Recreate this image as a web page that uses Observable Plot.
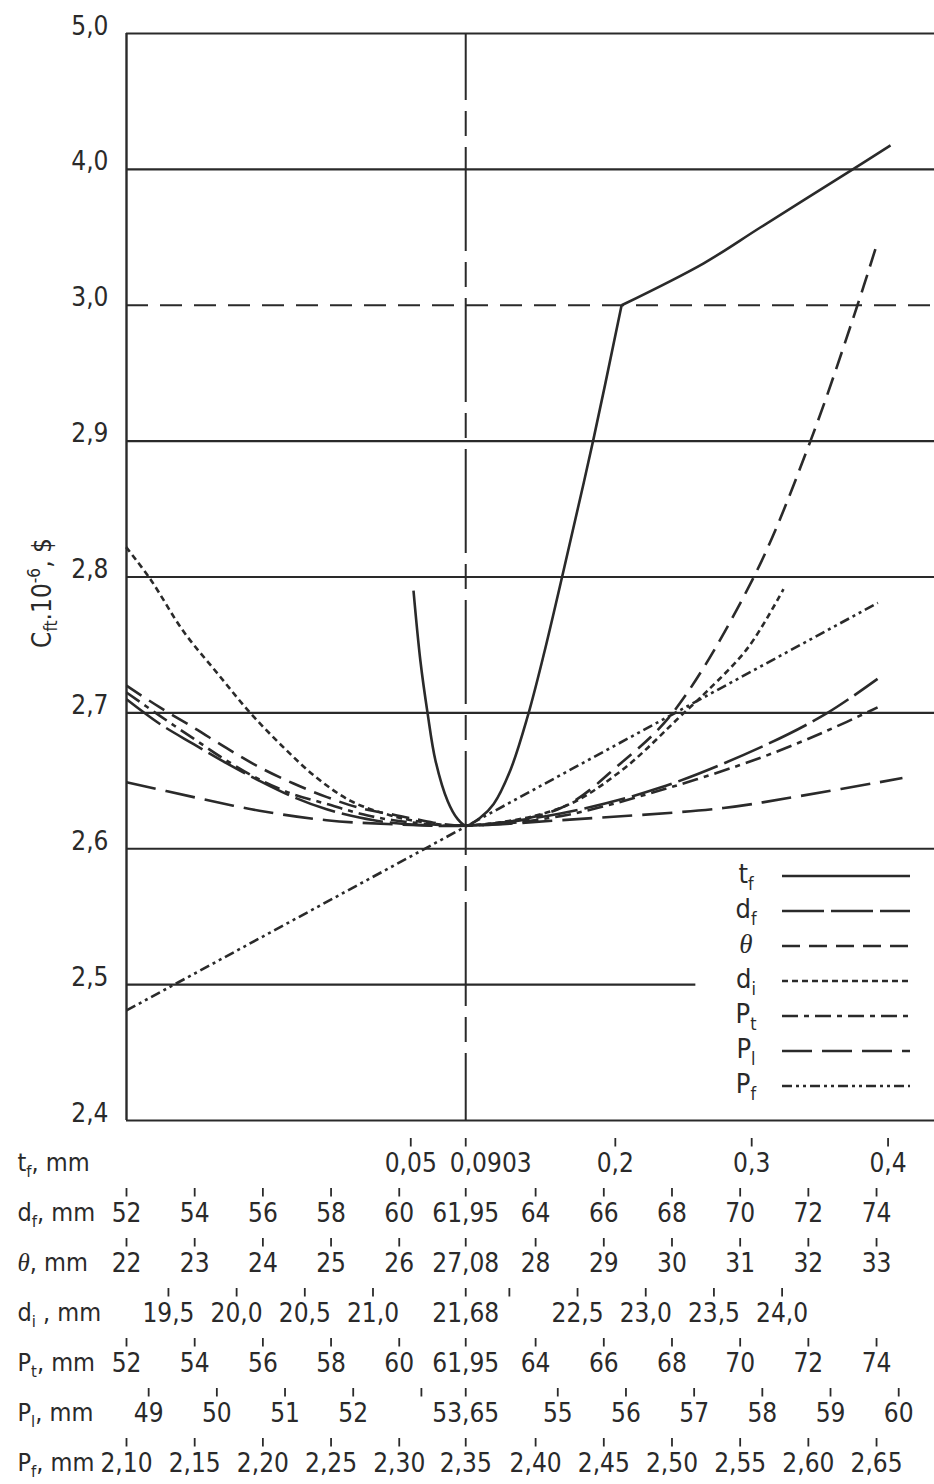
<!DOCTYPE html>
<html><head><meta charset="utf-8">
<script src="https://cdn.jsdelivr.net/npm/d3@7"></script>
<script src="https://cdn.jsdelivr.net/npm/@observablehq/plot@0.6"></script>
<style>
html,body{margin:0;padding:0;background:#fff;}
#chart{width:934px;}
#chart svg{display:block;}
</style></head><body><div id="chart"></div>
<script>
// ---------------- data ----------------
const yTicks = [2.4, 2.5, 2.6, 2.7, 2.8, 2.9, 3.0, 4.0, 5.0];
const yTickLabels = ["2,4", "2,5", "2,6", "2,7", "2,8", "2,9", "3,0", "4,0", "5,0"];
const yTitle = "C_{ft}.10^{-6}, $";

// curves: [value of the variable, C_ft ×10^-6 $]
const tfCurve = [[0.052,2.790],[0.0571,2.738],[0.0623,2.700],[0.0681,2.665],[0.0771,2.635],[0.0843,2.622],[0.0903,2.617],
  [0.1011,2.623],[0.1108,2.633],[0.1231,2.658],[0.1356,2.697],[0.1473,2.742],[0.1621,2.805],[0.1841,2.902],[0.2046,3.000],
  [0.2648,3.309],[0.3066,3.574],[0.3741,4.000],[0.4018,4.176]];
const dfCurve = [[52.0,2.710],[52.97,2.692],[53.97,2.677],[54.93,2.663],[55.90,2.650],[56.90,2.638],[57.87,2.629],[58.83,2.623],
  [59.83,2.619],[61.95,2.617],[64.73,2.626],[67.66,2.645],[70.80,2.677],[72.56,2.700],[74.03,2.725]];
const thetaCurve = [[22.0,2.720],[22.49,2.704],[22.99,2.689],[23.47,2.674],[23.95,2.660],[24.45,2.648],[24.94,2.638],[25.42,2.630],
  [25.92,2.625],[26.21,2.622],[26.98,2.617],[28.37,2.630],[29.25,2.663],[30.01,2.700],[31.20,2.800],[32.03,2.900],[32.72,3.000],[33.0,3.441]];
const diCurve = [[19.19,2.822],[19.37,2.798],[19.61,2.760],[19.86,2.729],[20.10,2.700],[20.35,2.674],[20.59,2.652],[20.84,2.635],
  [21.08,2.626],[21.28,2.621],[21.68,2.617],[22.375,2.630],[22.815,2.657],[23.28,2.700],[23.45,2.716],[23.75,2.748],[24.01,2.791]];
const ptCurve = [[52.0,2.715],[52.97,2.698],[53.97,2.681],[54.93,2.665],[55.90,2.651],[56.90,2.640],[57.87,2.633],[58.83,2.626],
  [59.83,2.621],[61.95,2.617],[64.73,2.624],[67.66,2.643],[70.60,2.667],[72.56,2.687],[74.03,2.704]];
const plCurve = [[48.675,2.649],[49.66,2.638],[50.625,2.628],[51.61,2.621],[52.59,2.618],[53.65,2.617],[55.04,2.621],
  [57.43,2.630],[58.46,2.638],[60.055,2.652]];
const pfCurve = [[2.10,2.481],[2.35,2.617],[2.651,2.781]];

// secondary abscissae
const rowKeys = ["tf", "df", "theta", "di", "Pt", "Pl", "Pf"];
const rowLabels = ["t_{f}, mm", "d_{f}, mm", "~{θ}, mm", "d_{i} , mm", "P_{t}, mm", "P_{l}, mm", "P_{f}, mm"];
const tfTicks = [0.05, 0.2, 0.3, 0.4];
const tfTickLabels = ["0,05", "0,2", "0,3", "0,4"];
const dfTicks = [52, 54, 56, 58, 60, 64, 66, 68, 70, 72, 74];
const dfTickLabels = ["52", "54", "56", "58", "60", "64", "66", "68", "70", "72", "74"];
const thetaTicks = [22, 23, 24, 25, 26, 28, 29, 30, 31, 32, 33];
const thetaTickLabels = ["22", "23", "24", "25", "26", "28", "29", "30", "31", "32", "33"];
const diTicks = [19.5, 20.0, 20.5, 21.0, 22.0, 22.5, 23.0, 23.5, 24.0];
const diTickLabels = ["19,5", "20,0", "20,5", "21,0", "", "22,5", "23,0", "23,5", "24,0"];
const ptTicks = [52, 54, 56, 58, 60, 64, 66, 68, 70, 72, 74];
const ptTickLabels = ["52", "54", "56", "58", "60", "64", "66", "68", "70", "72", "74"];
const plTicks = [49, 50, 51, 52, 53, 55, 56, 57, 58, 59, 60];
const plTickLabels = ["49", "50", "51", "52", "", "55", "56", "57", "58", "59", "60"];
const pfTicks = [2.10, 2.15, 2.20, 2.25, 2.30, 2.40, 2.45, 2.50, 2.55, 2.60, 2.65];
const pfTickLabels = ["2,10", "2,15", "2,20", "2,25", "2,30", "2,40", "2,45", "2,50", "2,55", "2,60", "2,65"];
const optimumLabels = ["0,0903", "61,95", "27,08", "21,68", "61,95", "53,65", "2,35"];

const legendKeys = ["tf", "df", "theta", "di", "Pt", "Pl", "Pf"];
const legendNames = ["t_{f}", "d_{f}", "~{θ}", "d_{i}", "P_{t}", "P_{l}", "P_{f}"];

// ---------------- scales / styles ----------------
const OPT = 61.95;                 // optimum, in d_f units (master abscissa)
const X_DOMAIN = [52, 75.7];
const GRID25_END = 68.7;
const toU = {                      // each variable -> master abscissa (d_f, mm)
  tf: v => OPT + (v - 0.0903) * 40,
  df: v => v,
  theta: v => 52 + (v - 22) * 2,
  di: v => OPT + (v - 21.68) * 4,
  Pt: v => v,
  Pl: v => OPT + (v - 53.65) * 2,
  Pf: v => 52 + (v - 2.10) * 40
};
const idx = v => v <= 3 ? (v - 2.4) * 10 : 6 + (v - 3);   // broken ordinate
const INK = "#2a2a2a";
const FONT = '"DejaVu Sans Condensed","DejaVu Sans",sans-serif';
const dash = {tf: null, df: "42,7", theta: "18,9", di: "6,4", Pt: "16,6,5,6", Pl: "30,10", Pf: "10,4,3,4,3,4"};
const SW = 2.6;

const lineMark = (data, key, curve = "catmull-rom") => Plot.line(data, {
  x: d => toU[key](d[0]), y: d => idx(d[1]), curve, stroke: INK, strokeWidth: SW,
  strokeDasharray: dash[key] || undefined, strokeLinecap: "butt"
});

// ---------------- main chart ----------------
const plot1 = Plot.plot({
  width: 934, height: 1130,
  marginLeft: 126, marginRight: 0, marginTop: 33, marginBottom: 10,
  x: {domain: X_DOMAIN, axis: null},
  y: {domain: [0, 8], axis: null},
  style: {background: "white", color: INK, fontFamily: FONT},
  marks: [
    Plot.ruleY(yTicks.filter(v => v !== 2.5 && v !== 3.0), {y: idx, stroke: INK, strokeWidth: 2.2}),
    Plot.ruleY([2.5], {y: idx, x1: X_DOMAIN[0], x2: GRID25_END, stroke: INK, strokeWidth: 2.2}),
    Plot.ruleY([3.0], {y: idx, stroke: INK, strokeWidth: 2.2, strokeDasharray: "22,12"}),
    Plot.ruleX([X_DOMAIN[0]], {y1: 0, y2: 8, stroke: INK, strokeWidth: 2.4}),
    Plot.ruleX([OPT], {y1: 0, y2: 8, stroke: INK, strokeWidth: 2, strokeDasharray: "104,11,25,11", strokeDashoffset: 37}),
    lineMark(tfCurve.filter(d => d[1] <= 3), "tf"),
    lineMark(tfCurve.filter(d => d[1] >= 3), "tf"),
    lineMark(dfCurve, "df"),
    lineMark(thetaCurve, "theta"),
    lineMark(diCurve, "di"),
    lineMark(ptCurve, "Pt"),
    lineMark(plCurve, "Pl"),
    lineMark(pfCurve, "Pf", "linear"),
    Plot.text(yTicks, {y: idx, text: (d, i) => yTickLabels[i], frameAnchor: "left", textAnchor: "end",
      lineAnchor: "bottom", dx: -18, dy: 1, fontSize: 26, fill: INK}),
    Plot.text([yTitle], {frameAnchor: "left", textAnchor: "middle", rotate: -90, dx: -84, dy: 16, fontSize: 26, fill: INK})
  ]
});

// ---------------- secondary abscissae ----------------
const tickSets = {
  tf: [tfTicks, tfTickLabels], df: [dfTicks, dfTickLabels], theta: [thetaTicks, thetaTickLabels],
  di: [diTicks, diTickLabels], Pt: [ptTicks, ptTickLabels], Pl: [plTicks, plTickLabels], Pf: [pfTicks, pfTickLabels]
};
const tickTable = [];
rowKeys.forEach((k, r) => {
  const [vals, labs] = tickSets[k];
  vals.forEach((v, i) => tickTable.push({row: k, u: toU[k](v), label: labs[i], opt: false}));
  tickTable.push({row: k, u: OPT, label: optimumLabels[r], opt: true});
});
const ROW_STEP = 50.5, ROW0 = 32;
const plot2 = Plot.plot({
  width: 934, height: 354,
  marginLeft: 126, marginRight: 0, marginTop: 0, marginBottom: 0,
  x: {domain: X_DOMAIN, axis: null},
  y: {type: "band", domain: rowKeys, padding: 0,
      range: [ROW0 - ROW_STEP / 2, ROW0 + ROW_STEP * (rowKeys.length - 0.5)], axis: null},
  style: {background: "white", color: INK, fontFamily: FONT},
  marks: [
    Plot.tickX(tickTable, {x: "u", y: "row", insetTop: -1, insetBottom: 42.5, stroke: INK, strokeWidth: 1.8}),
    Plot.text(tickTable.filter(d => d.label && !(d.opt && d.row === "tf")), {x: "u", y: "row", text: "label", fontSize: 26, dy: -1, fill: INK}),
    Plot.text(tickTable.filter(d => d.opt && d.row === "tf"), {x: "u", y: "row", text: "label", fontSize: 26, dy: -1, dx: 25, fill: INK}),
    Plot.text(rowKeys, {y: d => d, text: (d, i) => rowLabels[i], frameAnchor: "left", textAnchor: "start",
      dx: -109, dy: -2, fontSize: 25, fill: INK})
  ]
});

const host = document.getElementById("chart");
host.appendChild(plot1);
host.appendChild(plot2);

// ---------------- legend ----------------
const LEG_X_TEXT = 746, LEG_X1 = 782, LEG_X2 = 910, LEG_Y0 = 876, LEG_STEP = 35;
const lg = d3.select(plot1).append("g").attr("class", "legend");
legendKeys.forEach((k, i) => {
  const y = LEG_Y0 + i * LEG_STEP;
  lg.append("text").attr("x", LEG_X_TEXT).attr("y", y + 7).attr("font-size", 27)
    .attr("font-family", FONT).attr("fill", INK).text(legendNames[i]);
  lg.append("line").attr("x1", LEG_X1).attr("x2", LEG_X2).attr("y1", y).attr("y2", y)
    .attr("stroke", INK).attr("stroke-width", SW).attr("stroke-dasharray", dash[k]);
});

// ---------------- sub/superscripts ----------------
function richify(root) {
  d3.select(root).selectAll("text").each(function () {
    const raw = this.textContent;
    if (!/[_^~]\{/.test(raw)) return;
    const fs = parseFloat(getComputedStyle(this).fontSize) || 24;
    const parts = raw.split(/([_^~]\{[^}]*\})/).filter(s => s !== "");
    this.textContent = "";
    let shift = 0;
    for (const p of parts) {
      const m = /^([_^~])\{([^}]*)\}$/.exec(p);
      const ts = d3.select(this).append("tspan");
      let target = 0;
      if (m && m[1] === "_") { target = 0.25 * fs; ts.attr("font-size", 0.66 * fs); }
      else if (m && m[1] === "^") { target = -0.42 * fs; ts.attr("font-size", 0.66 * fs); }
      else if (m && m[1] === "~") { ts.attr("font-style", "italic").attr("font-family", '"Liberation Serif","DejaVu Serif",serif'); }
      if (target !== shift) ts.attr("dy", target - shift);
      shift = target;
      ts.text(m ? m[2] : p);
    }
  });
}
richify(plot1);
richify(plot2);
</script>
</body></html>
